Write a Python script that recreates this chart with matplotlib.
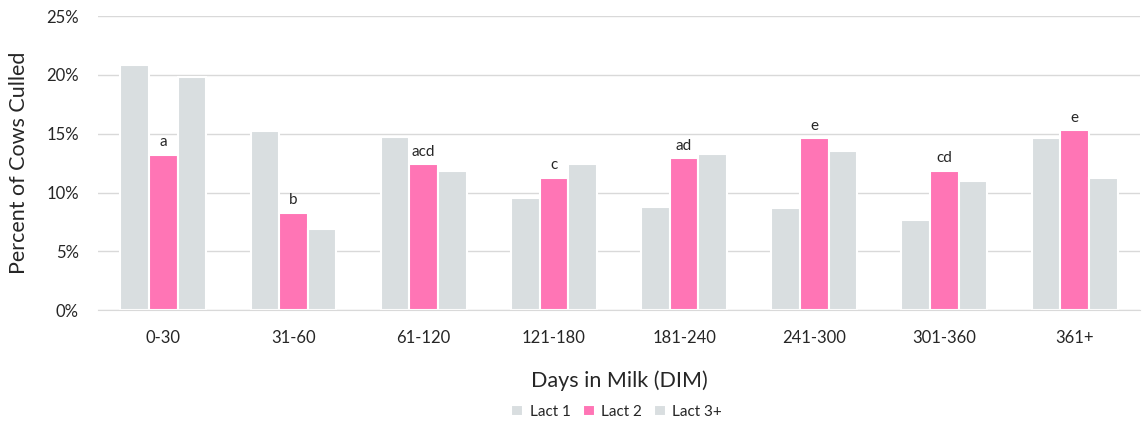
import numpy as np
import matplotlib.pyplot as plt
from matplotlib.ticker import PercentFormatter

plt.rcParams['font.family'] = ['Lato', 'DejaVu Sans']

categories = ['0-30', '31-60', '61-120', '121-180', '181-240', '241-300', '301-360', '361+']
lact1 = [20.8, 15.2, 14.7, 9.5, 8.75, 8.7, 7.7, 14.6]
lact2 = [13.2, 8.3, 12.4, 11.25, 12.9, 14.6, 11.85, 15.3]
lact3 = [19.85, 6.9, 11.8, 12.4, 13.3, 13.5, 11.0, 11.2]
letters = ['a', 'b', 'acd', 'c', 'ad', 'e', 'cd', 'e']

gray = '#D9DEE0'
pink = '#FF75B5'
text_col = '#262626'

fig = plt.figure(figsize=(11.42, 4.22), dpi=100)
ax = fig.add_axes([0.086, 0.265, 0.912, 0.697])

x = np.arange(len(categories))
w = 0.22
ax.bar(x - w, lact1, w, color=gray, edgecolor='white', linewidth=1.5, label='Lact 1', zorder=2)
ax.bar(x, lact2, w, color=pink, edgecolor='white', linewidth=1.5, label='Lact 2', zorder=2)
ax.bar(x + w, lact3, w, color=gray, edgecolor='white', linewidth=1.5, label='Lact 3+', zorder=2)

for xi, v, s in zip(x, lact2, letters):
    ax.annotate(s, (xi, v), xytext=(0, 4), textcoords='offset points',
                ha='center', va='bottom', fontsize=11, color=text_col)

ax.set_xlim(-0.5, len(categories) - 0.5)
ax.set_ylim(0, 25)
ax.set_yticks(np.arange(0, 26, 5))
ax.yaxis.set_major_formatter(PercentFormatter(decimals=0))
ax.set_xticks(x)
ax.set_xticklabels(categories)
ax.grid(axis='y', color='#D9D9D9', linewidth=1, zorder=0)
for side in ['top', 'right', 'left']:
    ax.spines[side].set_visible(False)
ax.spines['bottom'].set_color('#D9D9D9')
ax.tick_params(axis='both', length=0, labelsize=12, colors=text_col)
ax.tick_params(axis='x', pad=14)
ax.tick_params(axis='y', pad=14)

ax.set_xlabel('Days in Milk (DIM)', fontsize=15.5, color=text_col, labelpad=18)
ax.set_ylabel('Percent of Cows Culled', fontsize=15.5, color=text_col, labelpad=12)

fig.legend(loc='lower center', bbox_to_anchor=(0.54, -0.025), ncol=3, frameon=False,
           fontsize=11, handlelength=0.8, handleheight=0.8, handletextpad=0.4,
           columnspacing=0.8, labelcolor=text_col)

fig.savefig('out.png', dpi=100)
